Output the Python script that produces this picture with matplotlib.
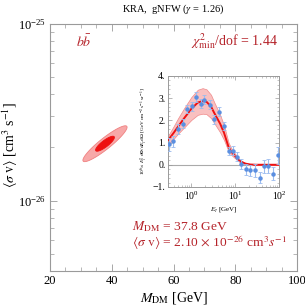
import numpy as np
import matplotlib
matplotlib.use("Agg")
import matplotlib.pyplot as plt
from matplotlib.ticker import FixedLocator, NullFormatter, LogLocator

plt.rcParams['font.family'] = ['Liberation Serif', 'DejaVu Serif']
plt.rcParams['mathtext.fontset'] = 'stix'

# best fit point and confidence regions (M_DM [GeV], <sigma v> [cm^3/s])
best_mass = 37.8
best_sv = 2.10e-26
# contour extents: mass half-width, log10(sv) half-height, correlation
contour_names = ['2sigma', '1sigma']
contour_dm = [7.15, 3.05]
contour_dlog = [0.1015, 0.0425]
contour_rho = [0.92, 0.84]
contour_colors = ['#f7a8a8', '#ee1111']

# inset: Fermi GCE spectrum (10^6 E^2 dPhi/dE dOmega)
data_E = [0.31, 0.39, 0.49, 0.63, 0.81, 1.02, 1.29, 1.64, 1.97, 2.62, 3.30, 4.25,
          5.46, 6.99, 8.65, 10.96, 13.6, 17.4, 22.0, 27.6, 35.5, 44.7, 56.3, 69.9, 91.3]
data_flux = [0.92, 1.05, 1.60, 1.85, 2.52, 2.64, 3.05, 2.74, 2.93, 2.71, 2.04, 2.38,
             1.75, 0.63, 0.63, 0.37, 0.04, -0.21, -0.25, -0.25, -0.59, -0.07, -0.06, -0.40, 0.42]
data_err = [0.30, 0.25, 0.22, 0.20, 0.18, 0.20, 0.22, 0.20, 0.20, 0.20, 0.20, 0.20,
            0.18, 0.18, 0.20, 0.20, 0.22, 0.25, 0.25, 0.28, 0.25, 0.30, 0.30, 0.30, 0.38]

model_E = [0.3, 0.4, 0.5, 0.7, 1.0, 1.4, 1.8, 2.2, 2.8, 3.3, 4.5, 5.5, 7.0, 8.0,
           10.0, 11.0, 13.0, 17.0, 22.0, 30.0, 100.0]
model_flux = [1.12, 1.45, 1.72, 2.12, 2.52, 2.80, 2.87, 2.84, 2.62, 2.34, 1.85, 1.45,
              0.80, 0.60, 0.38, 0.28, 0.15, 0.05, 0.01, 0.0, 0.0]
model_hi = [1.32, 1.75, 2.10, 2.58, 3.05, 3.38, 3.45, 3.40, 3.15, 2.82, 2.25, 1.78,
            1.00, 0.76, 0.48, 0.36, 0.20, 0.07, 0.02, 0.0, 0.0]
model_lo = [0.92, 1.18, 1.40, 1.70, 2.02, 2.25, 2.30, 2.28, 2.10, 1.88, 1.46, 1.12,
            0.60, 0.45, 0.28, 0.20, 0.10, 0.03, 0.0, 0.0, 0.0]

red_text = '#b5232a'
frame = '#9a9a9a'

fig = plt.figure(figsize=(3.05, 3.05), dpi=100)
ax = fig.add_axes([0.164, 0.1115, 0.81, 0.81])

t = np.linspace(0, 2 * np.pi, 300)
for dm, dl, rho, col in zip(contour_dm, contour_dlog, contour_rho, contour_colors):
    xs = best_mass + dm * np.cos(t)
    ys = np.log10(best_sv) + dl * (rho * np.cos(t) + np.sqrt(1 - rho**2) * np.sin(t))
    ax.fill(xs, 10**ys, color=col, lw=0.6, ec='#f08080' if col == '#f7a8a8' else col)

ax.set_yscale('log')
ax.set_xlim(20, 100)
ax.set_ylim(4e-27, 1e-25)
ax.xaxis.set_major_locator(FixedLocator([20, 40, 60, 80, 100]))
ax.xaxis.set_minor_locator(FixedLocator(np.arange(20, 101, 5)))
ax.yaxis.set_major_locator(FixedLocator([1e-26, 1e-25]))
ax.yaxis.set_minor_locator(LogLocator(base=10, subs=np.arange(2, 10)))
ax.yaxis.set_minor_formatter(NullFormatter())
ax.tick_params(which='both', direction='in', top=True, right=True, color=frame,
               labelsize=9, pad=3)
ax.tick_params(which='major', length=5, width=0.6)
ax.tick_params(which='minor', length=3, width=0.5)
for s in ax.spines.values():
    s.set_color(frame)
    s.set_linewidth(0.8)

ax.set_xlabel(r'$M_{\rm DM}$ [GeV]', fontsize=10, labelpad=2)
ax.set_ylabel(r'$\langle\sigma\ \mathrm{v}\rangle$ [cm$^3$ s$^{-1}$]', fontsize=10)
ax.yaxis.set_label_coords(-0.12, 0.51)
ax.set_title(r'KRA,  gNFW ($\gamma$ = 1.26)', fontsize=7.5, pad=9)

ax.text(0.105, 0.93, r'$b\bar{b}$', transform=ax.transAxes, color=red_text,
        fontsize=10, ha='left', va='center')
ax.text(0.92, 0.93, r'$\chi^2_{\rm min}$/dof = 1.44', transform=ax.transAxes,
        color=red_text, fontsize=10, ha='right', va='center')
ax.text(0.33, 0.18, r'$M_{\rm DM}$ = %.1f GeV' % best_mass, transform=ax.transAxes,
        color=red_text, fontsize=9.7, ha='left', va='center')
ax.text(0.33, 0.115, r'$\langle\sigma\ \mathrm{v}\rangle$ = %.2f $\times$ 10$^{-26}$ cm$^3$$s^{-1}$'
        % (best_sv / 1e-26), transform=ax.transAxes,
        color=red_text, fontsize=9.7, ha='left', va='center')

# inset spectrum
ins = fig.add_axes([0.552, 0.387, 0.364, 0.364])
ins.set_xscale('log')
ins.axhline(0, color='#aaaaaa', lw=0.8, zorder=1)
ins.fill_between(model_E, model_lo, model_hi, color='#f9c0c0', ec='#f08a8a', lw=0.5, zorder=2)
ins.plot(model_E, model_flux, color='#ee1111', lw=1.4, zorder=3)
ins.errorbar(data_E, data_flux, yerr=data_err, fmt='o', ms=2.2, color='#5b8fe0',
             ecolor='#9cbcef', elinewidth=0.8, capsize=1.2, capthick=0.6, zorder=4)
ins.set_xlim(0.3, 100)
ins.set_ylim(-1, 4)
ins.set_yticks([-1, 0, 1, 2, 3, 4])
ins.set_yticklabels(['\u22121.', '0.', '1.', '2.', '3.', '4.'])
ins.yaxis.set_minor_locator(FixedLocator(np.arange(-1, 4.01, 0.2)))
ins.xaxis.set_major_locator(FixedLocator([1, 10, 100]))
ins.xaxis.set_minor_locator(LogLocator(base=10, subs=np.arange(2, 10)))
ins.xaxis.set_minor_formatter(NullFormatter())
ins.tick_params(which='both', direction='in', top=True, right=True, color=frame,
                labelsize=7, pad=2)
ins.tick_params(which='major', length=3, width=0.5)
ins.tick_params(which='minor', length=1.5, width=0.4)
for s in ins.spines.values():
    s.set_color(frame)
    s.set_linewidth(0.7)
ins.set_xlabel(r'$E_\gamma$ [GeV]', fontsize=5, labelpad=2)
ins.set_ylabel(r'10$^6$$\times$ $E_\gamma^2$ d$\Phi$/d$E_\gamma$d$\Omega$ [GeV cm$^{-2}$ s$^{-1}$ sr$^{-1}$]',
               fontsize=3.8, labelpad=2)

fig.savefig('out.png', dpi=100)
